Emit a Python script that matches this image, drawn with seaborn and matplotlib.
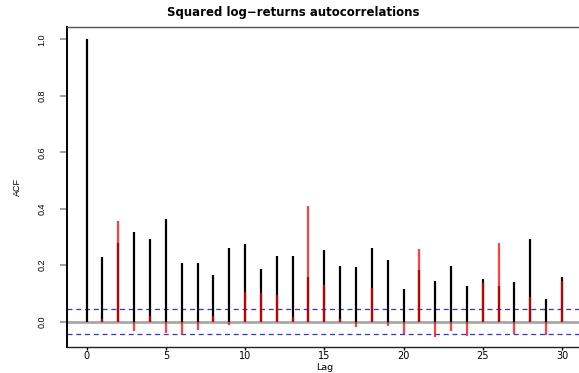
import numpy as np
import matplotlib
matplotlib.use("Agg")
import matplotlib.pyplot as plt
import seaborn as sns

lags = list(range(0, 31))
acf_black = [1.0, 0.230, 0.280, 0.316, 0.293, 0.363, 0.208, 0.208, 0.165, 0.262,
             0.275, 0.188, 0.231, 0.231, 0.159, 0.254, 0.198, 0.193, 0.260, 0.220,
             0.116, 0.183, 0.144, 0.197, 0.125, 0.150, 0.128, 0.140, 0.294, 0.080,
             0.157]
red_lags = list(range(1, 31))
acf_red = [0.010, 0.357, -0.034, 0.021, -0.039, -0.044, -0.029, 0.021, -0.012,
           0.106, 0.100, 0.095, 0.016, 0.410, 0.130, 0.008, -0.018, 0.118, -0.014,
           -0.045, 0.256, -0.053, -0.033, -0.050, 0.136, 0.278, -0.044, 0.089,
           -0.046, 0.144]
conf = 0.044
x_ticks = [0, 5, 10, 15, 20, 25, 30]
y_ticks = [0.0, 0.2, 0.4, 0.6, 0.8, 1.0]
y_tick_labels = ["0.0", "0.2", "0.4", "0.6", "0.8", "1.0"]

sns.set_style("white")
plt.rcParams['font.family'] = ['Liberation Sans', 'DejaVu Sans']
plt.rcParams['text.color'] = 'black'
plt.rcParams['axes.labelcolor'] = 'black'
plt.rcParams['xtick.color'] = 'black'
plt.rcParams['ytick.color'] = 'black'

fig = plt.figure(figsize=(5.79, 3.73), dpi=100)
ax = fig.add_axes([67 / 579, 1 - 347 / 373, (581 - 67) / 579, (347 - 27) / 373])

ax.axhline(0, color="#a8a8a8", lw=2.0, zorder=1)
ax.axhline(conf, color="#3030ff", lw=0.9, ls=(0, (4, 3)), zorder=2)
ax.axhline(-conf, color="#3030ff", lw=0.9, ls=(0, (4, 3)), zorder=2)
ax.vlines(lags, 0, acf_black, color="black", lw=1.6, zorder=3)
ax.vlines(red_lags, 0, acf_red, color="red", lw=1.6, alpha=0.75, zorder=4)

ax.set_xlim(-1.24, 31.2)
ax.set_ylim(-0.0896, 1.0435)

ax.set_xticks(x_ticks)
ax.set_xticklabels([str(t) for t in x_ticks], fontsize=7, family="DejaVu Sans")
ax.set_yticks(y_ticks)
ax.set_yticklabels(y_tick_labels, fontsize=6.5, rotation=90, va="center")

ax.tick_params(axis="x", bottom=True, direction="out", length=2.2, width=1.0,
               color="black", labelcolor="black", pad=1.0)
ax.tick_params(axis="y", left=True, direction="out", length=5, width=1.2,
               color="#909090", labelcolor="black", pad=10)

ax.spines["left"].set_visible(True)
ax.spines["left"].set_color("black")
ax.spines["left"].set_linewidth(1.4)
ax.spines["top"].set_visible(True)
ax.spines["top"].set_color("#555555")
ax.spines["top"].set_linewidth(1.0)
ax.spines["bottom"].set_visible(True)
ax.spines["bottom"].set_color("#222222")
ax.spines["bottom"].set_linewidth(1.0)
ax.spines["right"].set_visible(False)

ax.set_xlabel("Lag", fontsize=6.8, va="top", family="DejaVu Sans")
ax.xaxis.set_label_coords((325 - 67) / 514, -16.3 / 320)
ax.set_ylabel("ACF", fontsize=6.5, labelpad=11)
ax.set_title("Squared log\u2212returns autocorrelations", fontsize=8.5,
             fontweight="bold", family="DejaVu Sans", x=(293.5 - 67) / 514, pad=8)

fig.savefig("out.png", dpi=100)
